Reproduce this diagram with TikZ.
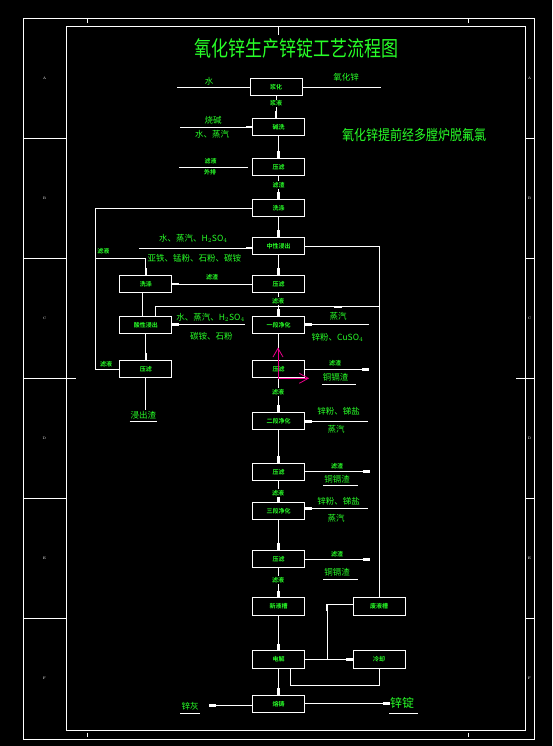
\documentclass[tikz,border=0pt]{standalone}
\usepackage{fontspec}
\newfontfamily\cjk{Noto Sans CJK SC}
\newfontfamily\cjkb{Noto Sans CJK SC Bold}
\usetikzlibrary{arrows.meta,positioning,calc}
\definecolor{cadgreen}{RGB}{40,255,40}

\begin{document}
\begin{tikzpicture}[
  x=1pt, y=-1pt,
  font=\cjk, color=white, line width=0.9pt,
  node distance=22pt and 48pt,
  box/.style={draw=white, rectangle, minimum width=52pt, minimum height=17.5pt,
    inner sep=0pt, outer sep=0pt, text=cadgreen, font=\cjkb\fontsize{6}{6}\selectfont},
  lbl/.style={text=cadgreen, inner sep=0.5pt, font=\cjk\fontsize{8.5}{9}\selectfont},
  sml/.style={lbl, font=\cjkb\fontsize{6}{6}\selectfont},
  tag/.style={sml, fill=black, inner sep=1pt},
  mk/.style={inner sep=0pt, font=\fontsize{3.5}{4}\selectfont},
  arr/.style={-{Rectangle[length=7pt,width=2.6pt]}},
  ucs/.style={draw=magenta, line width=0.8pt}
]
% background and drawing frame
\fill[black] (0,0) rectangle (552,746);
\draw (23,18) rectangle (534,739);
\draw (66.7,26) rectangle (525,730);
\foreach \y in {138,258,498,618} {
  \draw (23,\y) -- (66.7,\y);
  \draw (525,\y) -- (534,\y);
}
\draw (23,378) -- (76,378);
\draw (516,378) -- (534,378);
\draw (278,26) -- (278,35);
\foreach \x in {87,468} {
  \draw (\x,19.5) -- (\x,23.5);
  \draw (\x,732.5) -- (\x,736.5);
}
\foreach \y/\c in {78/A,198/B,318/C,438/D,558/E,678/F} {
  \node[mk] (ml\c) at (44.5,\y) {\c};
  \node[mk] (mr\c) at (529.5,\y) {\c};
}

\node[lbl, font=\cjk\fontsize{17}{17}\selectfont] (title) at (296,48.5)
  {\scalebox{1}[1.25]{氧化锌生产锌锭工艺流程图}};
\node[lbl, font=\cjk\fontsize{12}{12}\selectfont] (note) at (414,135)
  {\scalebox{1}[1.2]{氧化锌提前经多膛炉脱氟氯}};

% main column
\node[box] (b1) at (276,87) {浆化};
\node[box, below=22.5pt of b1, xshift=2.5pt] (b2) {碱洗};
\node[box, below=22.5pt of b2] (b3) {压滤};
\node[box, below=23.5pt of b3] (b4) {洗涤};
\node[box, below=20.5pt of b4] (b5) {中性浸出};
\node[box, below=20.5pt of b5] (b6) {压滤};
\node[box, below=23.5pt of b6] (b7) {一段净化};
\node[box, below=26.5pt of b7] (b8) {压滤};
\node[box, below=34.5pt of b8] (b9) {二段净化};
\node[box, below=33.5pt of b9] (b10) {压滤};
\node[box, below=21.5pt of b10] (b11) {三段净化};
\node[box, below=30.5pt of b11] (b12) {压滤};
\node[box, below=30pt of b12] (b13) {新液槽};
\node[box, below=35.5pt of b13] (b14) {电解};
\node[box, below=27pt of b14] (b15) {熔铸};

% side boxes
\node[box, left=80.6pt of b6] (la) {洗涤};
\node[box, left=80.6pt of b7] (lb) {酸性浸出};
\node[box, left=80.6pt of b8] (lc) {压滤};
\node[box, right=48.6pt of b13] (r1) {废液槽};
\node[box, right=48.6pt of b14] (r2) {冷却};

% column links
\draw[arr] (b1) -- (b1 |- b2.north);
\node[tag] (t12) at (276,103.5) {浆液};
\draw[arr] (b2) -- (b3);
\draw[arr] (b3) -- (b4);
\node[tag] (t34) at (278.5,185) {滤渣};
\draw[arr] (b4) -- (b5);
\draw[arr] (b5) -- (b6);
\draw[arr] (b6) -- (b7);
\node[tag] (t67) at (278,301) {滤液};
\draw (b7) -- (b8);
\draw[arr] (b8) -- (b9);
\node[tag] (t89) at (278,392) {滤液};
\draw[arr] (b9) -- (b10);
\draw[arr] (b10) -- (b11);
\node[tag] (t1011) at (278,493) {滤液};
\draw[arr] (b11) -- (b12);
\draw[arr] (b12) -- (b13);
\node[tag] (t1213) at (278,580) {滤液};
\draw[arr] (b13) -- (b14);
\draw[arr] (b14) -- (b15);

% feeds at the top
\coordinate (w1) at (177,87);
\coordinate (e1) at (380.7,87);
\draw (w1) -- (b1);
\draw (b1) -- (e1);
\node[lbl] (water1) at (209,81) {水};
\node[lbl] (zno) at (346,77) {氧化锌};
\coordinate (w2) at (180,127);
\draw[arr] (w2) -- (b2);
\node[lbl] (naoh) at (213,120.5) {烧碱};
\node[lbl] (steam2) at (212,134) {水、蒸汽};
\coordinate (w3) at (179,167);
\draw[shorten <=4.5pt] (b3) -- (w3);
\node[sml] (fl3) at (210.5,161) {滤液};
\node[sml] (out3) at (210,172.5) {外排};

% left loop
\coordinate (lj) at (95.3,258.3);
\draw (b4) -| (lj) |- (lc);
\draw[arr] (lj) -| (la);
\node[sml] (fl1) at (103.3,251) {滤液};
\node[sml] (fl2) at (106,364) {滤液};

% neutral leach
\coordinate (w5) at (139,248);
\draw[arr] (w5) -- (w5 -| b5.west);
\node[lbl] (acid5) at (193.3,238.3) {水、蒸汽、H$_2$SO$_4$};
\node[lbl] (add5) at (194.3,258.3) {亚铁、锰粉、石粉、碳铵};
\draw (b5) -| (r1);
\coordinate (rt) at (379,306.3);
\draw (rt) -| ([xshift=10pt]lb.north);
\draw[line width=1.8pt] (rt) ++(-37,0.8) -- ++(-8,0);

% acid leach branch
\draw[arr] (b6) -- (la);
\node[sml] (r6) at (212,277.7) {滤渣};
\draw ([xshift=-3.7pt]la.south) -- ([xshift=-3.7pt]lb.north);
\draw[arr] (lb) -- (lc);
\coordinate (elb) at (245,324.3);
\draw[arr] (elb) -- (elb -| lb.east);
\node[lbl] (acidl) at (210.5,317.3) {水、蒸汽、H$_2$SO$_4$};
\node[lbl] (addl) at (211.3,336) {碳铵、石粉};
\node[lbl] (slag) at (143.3,415) {浸出渣};
\draw (lc) -- (lc |- slag.north);
\draw ([yshift=-2pt]slag.south west) -- ([yshift=-2pt]slag.south east);

% purification
\coordinate (e7) at (369,324.3);
\draw[arr] (e7) -- (e7 -| b7.east);
\node[lbl] (st7) at (338,316) {蒸汽};
\node[lbl] (zn7) at (337.5,337.3) {锌粉、CuSO$_4$};
\coordinate (e8) at (369,369.3);
\draw[arr] (b8.east |- e8) -- (e8);
\node[sml] (r8) at (335,363.7) {滤渣};
\node[lbl] (cd8) at (335.5,377.7) {铜镉渣};
\draw ([yshift=-2pt]cd8.south west) -- ++(34,0);

\coordinate (e9) at (367.7,421.3);
\draw[arr] (e9) -- (e9 -| b9.east);
\node[lbl] (zn9) at (338.7,411.7) {锌粉、锑盐};
\node[lbl] (st9) at (336,429.7) {蒸汽};
\coordinate (e10) at (370,471.3);
\draw[arr] (b10.east |- e10) -- (e10);
\node[sml] (r10) at (337,466) {滤渣};
\node[lbl] (cd10) at (337,479) {铜镉渣};
\draw ([yshift=-2pt]cd10.south west) -- ++(35,0);

\coordinate (e11) at (367.7,508.3);
\draw[arr] (e11) -- (e11 -| b11.east);
\node[lbl] (zn11) at (338.7,501.7) {锌粉、锑盐};
\node[lbl] (st11) at (336,518.7) {蒸汽};
\coordinate (e12) at (370,559.7);
\draw[arr] (b12.east |- e12) -- (e12);
\node[sml] (r12) at (337,554) {滤渣};
\node[lbl] (cd12) at (337,572.7) {铜镉渣};
\draw ([yshift=-2pt]cd12.south west) -- ++(35,0);

% UCS icon
\draw[ucs] (278,378.3) -- (278,348.3);
\draw[ucs] (273,357) -- (278,348.3) -- (283,357);
\draw[ucs] (278,378.3) -- (308.3,378.3);
\draw[ucs] (299.3,373.3) -- (308.3,378.3) -- (299.3,383.3);

% electrolysis
\coordinate (jn) at (327,659.5);
\coordinate (jt) at (327,604.3);
\draw[arr] (b14) -- (r2);
\draw[arr] (jn) -- (jt);
\draw (jt) -- (jt -| r1.west);
\coordinate (lp) at (290.3,685.7);
\draw (r2) |- (lp) -- (lp |- b14.south);

% products
\coordinate (o15w) at (209,705.3);
\draw[arr] (o15w -| b15.west) -- (o15w);
\node[lbl] (znash) at (190,706) {锌灰};
\draw (180,713.3) -- (200,713.3);
\coordinate (o15e) at (390,703.3);
\draw[arr] (o15e -| b15.east) -- (o15e);
\node[lbl, font=\cjk\fontsize{12}{12}\selectfont] (ingot) at (402,702.7) {锌锭};
\draw (389,713.3) -- (418,713.3);
\end{tikzpicture}
\end{document}
